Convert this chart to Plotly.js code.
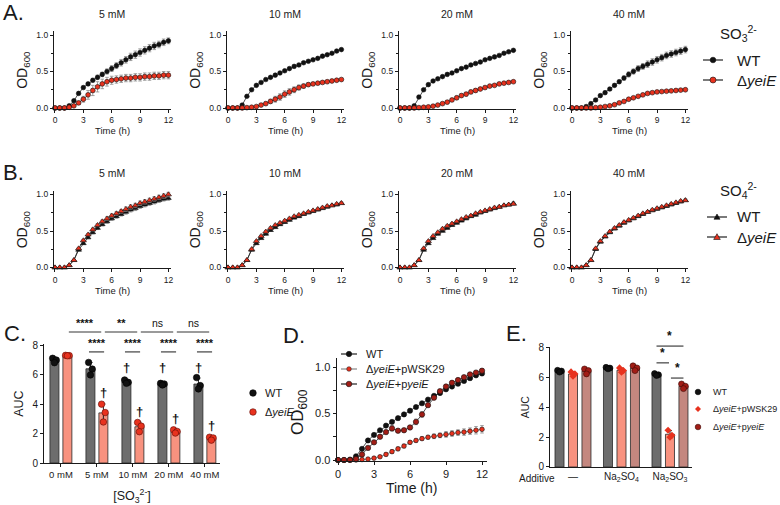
<!DOCTYPE html>
<html>
<head>
<meta charset="utf-8">
<script src="https://cdn.plot.ly/plotly-3.0.1.min.js"></script>
<style>
  html, body { margin: 0; padding: 0; background: #fff; }
  #chart { width: 780px; height: 505px; }
</style>
</head>
<body>
<div id="chart"></div>
<script>
// ---------- growth curves: sampling times (h) ----------
const hours = [0,0.5,1,1.5,2,2.5,3,3.5,4,4.5,5,5.5,6,6.5,7,7.5,8,8.5,9,9.5,10,10.5,11,11.5,12];

// ---------- A: sulfite (SO3 2-), OD600 mean and SD ----------
const a5Wt    = [0,0,0,0.03,0.10,0.20,0.28,0.33,0.38,0.42,0.46,0.50,0.54,0.58,0.62,0.66,0.70,0.73,0.76,0.79,0.82,0.85,0.87,0.90,0.92];
const a5WtSd  = [0,0,0,0.005,0.01,0.015,0.02,0.02,0.025,0.03,0.03,0.035,0.04,0.04,0.045,0.045,0.05,0.05,0.05,0.05,0.05,0.05,0.045,0.045,0.04];
const a5Ko    = [0,0,0,0.01,0.03,0.07,0.12,0.18,0.24,0.29,0.33,0.36,0.38,0.39,0.40,0.41,0.41,0.42,0.42,0.43,0.43,0.44,0.44,0.45,0.45];
const a5KoSd  = [0,0,0,0.005,0.01,0.02,0.04,0.06,0.07,0.07,0.065,0.06,0.055,0.05,0.05,0.05,0.05,0.05,0.05,0.05,0.05,0.05,0.05,0.05,0.05];

const a10Wt   = [0,0,0,0.04,0.16,0.25,0.31,0.35,0.39,0.42,0.45,0.48,0.51,0.54,0.57,0.59,0.62,0.64,0.66,0.68,0.71,0.73,0.75,0.78,0.80];
const a10WtSd = [0,0,0,0.005,0.01,0.01,0.01,0.01,0.01,0.01,0.01,0.01,0.01,0.01,0.01,0.01,0.01,0.01,0.01,0.01,0.01,0.01,0.01,0.01,0.01];
const a10Ko   = [0,0,0,0,0.005,0.01,0.02,0.04,0.06,0.09,0.12,0.15,0.19,0.22,0.25,0.28,0.30,0.32,0.33,0.34,0.35,0.36,0.37,0.38,0.39];
const a10KoSd = [0,0,0,0,0.003,0.005,0.01,0.015,0.02,0.03,0.04,0.045,0.045,0.045,0.04,0.035,0.03,0.025,0.02,0.02,0.015,0.015,0.015,0.015,0.015];

const a20Wt   = [0,0,0,0.03,0.15,0.25,0.32,0.37,0.40,0.43,0.46,0.48,0.51,0.54,0.56,0.59,0.61,0.63,0.66,0.68,0.70,0.72,0.75,0.77,0.79];
const a20WtSd = [0,0,0,0.005,0.01,0.01,0.01,0.01,0.01,0.01,0.01,0.01,0.01,0.01,0.01,0.01,0.01,0.01,0.01,0.01,0.01,0.01,0.01,0.01,0.01];
const a20Ko   = [0,0,0,0,0.005,0.01,0.015,0.025,0.04,0.06,0.08,0.11,0.14,0.17,0.19,0.22,0.24,0.26,0.28,0.30,0.31,0.33,0.34,0.35,0.36];
const a20KoSd = [0,0,0,0,0,0.003,0.005,0.008,0.01,0.015,0.02,0.02,0.025,0.025,0.025,0.025,0.025,0.02,0.02,0.015,0.015,0.01,0.01,0.01,0.01];

const a40Wt   = [0,0,0,0.02,0.06,0.11,0.17,0.21,0.26,0.31,0.36,0.41,0.46,0.50,0.54,0.57,0.60,0.63,0.66,0.69,0.72,0.74,0.76,0.78,0.80];
const a40WtSd = [0,0,0,0.005,0.01,0.01,0.015,0.015,0.02,0.02,0.025,0.03,0.035,0.035,0.04,0.04,0.045,0.045,0.045,0.045,0.045,0.045,0.045,0.045,0.045];
const a40Ko   = [0,0,0,0,0,0.005,0.01,0.02,0.03,0.045,0.07,0.09,0.12,0.14,0.16,0.18,0.20,0.21,0.22,0.225,0.23,0.235,0.24,0.245,0.25];
const a40KoSd = [0,0,0,0,0,0.003,0.005,0.005,0.008,0.008,0.01,0.01,0.01,0.01,0.01,0.01,0.01,0.01,0.01,0.01,0.01,0.01,0.01,0.01,0.01];

// ---------- B: sulfate (SO4 2-), OD600 mean and SD ----------
const b5Wt    = [0,0,0,0.03,0.10,0.24,0.33,0.41,0.48,0.54,0.59,0.63,0.67,0.70,0.73,0.76,0.79,0.81,0.84,0.86,0.88,0.90,0.92,0.94,0.95];
const b5Ko    = [0,0,0,0.03,0.10,0.26,0.37,0.45,0.52,0.58,0.63,0.67,0.71,0.74,0.77,0.80,0.83,0.85,0.88,0.90,0.92,0.94,0.96,0.98,1.00];
const b5Sd    = [0,0,0,0.005,0.01,0.01,0.015,0.015,0.02,0.02,0.02,0.025,0.025,0.025,0.025,0.03,0.03,0.03,0.03,0.03,0.03,0.03,0.03,0.03,0.03];
const b10Wt   = [0,0,0,0.03,0.10,0.24,0.33,0.40,0.46,0.51,0.55,0.59,0.62,0.65,0.68,0.70,0.73,0.75,0.77,0.79,0.81,0.83,0.85,0.86,0.88];
const b10Ko   = [0,0,0,0.03,0.10,0.25,0.36,0.43,0.49,0.54,0.58,0.61,0.64,0.67,0.70,0.72,0.74,0.76,0.78,0.80,0.82,0.84,0.85,0.87,0.88];
const b20Wt   = [0,0,0,0.03,0.10,0.24,0.33,0.40,0.46,0.50,0.54,0.58,0.61,0.64,0.67,0.70,0.72,0.75,0.77,0.79,0.81,0.83,0.85,0.86,0.88];
const b20Ko   = [0,0,0,0.03,0.10,0.26,0.36,0.43,0.48,0.53,0.57,0.60,0.63,0.66,0.69,0.71,0.74,0.76,0.78,0.80,0.82,0.83,0.85,0.86,0.87];
const b40Wt   = [0,0,0,0.03,0.10,0.25,0.35,0.42,0.48,0.53,0.57,0.61,0.64,0.67,0.70,0.73,0.76,0.78,0.80,0.82,0.84,0.86,0.88,0.90,0.92];
const b40Ko   = [0,0,0,0.03,0.10,0.26,0.36,0.43,0.49,0.54,0.58,0.62,0.65,0.68,0.71,0.74,0.76,0.79,0.81,0.83,0.85,0.87,0.89,0.91,0.92];
const bSd     = [0,0,0,0.005,0.01,0.01,0.01,0.01,0.015,0.015,0.015,0.015,0.015,0.015,0.015,0.015,0.015,0.015,0.015,0.015,0.015,0.015,0.015,0.015,0.015];

// ---------- C: area under curve vs sulfite concentration ----------
const cCats   = ['0 mM', '5 mM', '10 mM', '20 mM', '40 mM'];
const cWtReps = [[7.10, 6.98, 6.80], [6.82, 6.37, 5.97], [5.63, 5.47, 5.40], [5.40, 5.36, 5.29], [5.79, 5.25, 5.02]];
const cKoReps = [[7.30, 7.28, 7.27], [3.99, 3.42, 2.78], [2.75, 2.50, 2.12], [2.25, 2.14, 2.03], [1.75, 1.70, 1.55]];
const cAcross = ['****', '**', 'ns', 'ns'];             // ΔyeiE, consecutive concentrations
const cWithin = [null, '****', '****', '****', '****']; // WT vs ΔyeiE at each concentration
const cDagWt  = [false, false, true, true, true];
const cDagKo  = [false, true, true, true, true];

// ---------- D: complementation growth curves ----------
const dWt     = [0,0,0.005,0.04,0.12,0.21,0.27,0.32,0.37,0.41,0.45,0.49,0.53,0.57,0.61,0.65,0.69,0.72,0.76,0.79,0.82,0.85,0.88,0.91,0.93];
const dWtSd   = [0,0,0,0.005,0.01,0.01,0.01,0.01,0.01,0.01,0.01,0.01,0.01,0.01,0.01,0.01,0.01,0.01,0.01,0.01,0.01,0.01,0.015,0.015,0.015];
const dVec    = [0,0,0,0,0.005,0.01,0.02,0.035,0.06,0.09,0.12,0.15,0.19,0.21,0.23,0.245,0.255,0.265,0.275,0.285,0.295,0.30,0.31,0.32,0.33];
const dVecSd  = [0,0,0,0,0,0.005,0.005,0.01,0.015,0.02,0.02,0.02,0.02,0.02,0.02,0.02,0.025,0.025,0.03,0.03,0.03,0.035,0.035,0.04,0.04];
const dComp   = [0,0,0,0.01,0.06,0.13,0.19,0.25,0.30,0.34,0.315,0.32,0.35,0.41,0.49,0.59,0.67,0.74,0.79,0.83,0.86,0.89,0.92,0.94,0.96];
const dCompSd = [0,0,0,0.005,0.01,0.01,0.01,0.015,0.02,0.03,0.015,0.015,0.02,0.03,0.03,0.02,0.015,0.015,0.015,0.015,0.015,0.015,0.015,0.015,0.02];

// ---------- E: AUC with additives ----------
const eCats     = ['—', 'Na<sub>2</sub>SO<sub>4</sub>', 'Na<sub>2</sub>SO<sub>3</sub>'];
const eWtReps   = [[6.50, 6.45, 6.38], [6.70, 6.65, 6.60], [6.28, 6.20, 6.15]];
const eVecReps  = [[6.39, 6.26, 6.10], [6.66, 6.48, 6.37], [2.47, 2.13, 2.00]];
const eCompReps = [[6.59, 6.48, 6.26], [6.80, 6.66, 6.48], [5.58, 5.43, 5.27]];

// ---------- helpers ----------
const W = 780, H = 505;
const FONT = 'Liberation Sans, Arial, Helvetica, sans-serif';
const INK = '#1a1a1a';
const RED = '#e8321e', DARKRED = '#a11d16', GREY = '#6d6d6d', SALMON = '#f8927f', ROSE = '#c4877f';
const pxX = v => v / W;
const pxY = v => 1 - v / H;
const mean = a => a.reduce((s, v) => s + v, 0) / a.length;
const sd = a => { const m = mean(a); return Math.sqrt(a.reduce((s, v) => s + (v - m) * (v - m), 0) / (a.length - 1)); };

const baseAxis = {
  showline: true, linecolor: INK, linewidth: 1,
  ticks: 'outside', ticklen: 3, tickwidth: 1, tickcolor: INK,
  showgrid: false, zeroline: false, fixedrange: true,
  tickfont: { family: FONT, size: 8.5, color: INK }
};

const layout = {
  width: W, height: H,
  margin: { l: 0, r: 0, t: 0, b: 0 },
  paper_bgcolor: '#ffffff', plot_bgcolor: 'rgba(0,0,0,0)',
  font: { family: FONT, color: INK },
  showlegend: false,
  annotations: [], shapes: []
};
const traces = [];

// growth-curve subplot: axis number n, pixel of t=0, pixel rows of OD 0 and 1
const XK = 9.45;
const X_RANGE = [-0.12, 12.3];
const Y_RANGE = [-0.012, 1.05];
function curveAxes(n, x0, zeroY, oneY, title, titleY) {
  const k = zeroY - oneY;
  const xs = n === 1 ? 'xaxis' : 'xaxis' + n;
  const ys = n === 1 ? 'yaxis' : 'yaxis' + n;
  layout[xs] = Object.assign({}, baseAxis, {
    domain: [pxX(x0 + X_RANGE[0] * XK), pxX(x0 + X_RANGE[1] * XK)],
    range: X_RANGE, tickvals: [0, 3, 6, 9, 12],
    anchor: 'y' + n,
    title: { text: 'Time (h)', font: { size: 9.5, color: INK }, standoff: 3 }
  });
  layout[ys] = Object.assign({}, baseAxis, {
    domain: [pxY(zeroY - Y_RANGE[0] * k), pxY(zeroY - Y_RANGE[1] * k)],
    range: Y_RANGE, tickvals: [0, 0.5, 1], tickformat: '.1f',
    minor: { ticks: 'outside', ticklen: 2, tickcolor: INK, tickvals: [0.25, 0.75] },
    anchor: 'x' + n,
    title: { text: 'OD<sub>600</sub>', font: { size: 14, color: INK }, standoff: 5 }
  });
  layout.annotations.push({
    xref: 'paper', yref: 'paper', x: pxX(x0 + 6 * XK), y: pxY(titleY),
    text: title, showarrow: false, xanchor: 'center', yanchor: 'middle',
    font: { size: 10.5, color: '#222' }
  });
}

function curve(n, y, err, fill, symbol, size, name, lineColor) {
  return {
    type: 'scatter', mode: 'lines+markers', x: hours, y: y,
    xaxis: 'x' + (n === 1 ? '' : n), yaxis: 'y' + (n === 1 ? '' : n),
    name: name, cliponaxis: false,
    line: { color: lineColor || '#222', width: 0.8 },
    marker: { color: fill, symbol: symbol, size: size, line: { color: '#111', width: 0.6 } },
    error_y: { type: 'data', array: err, visible: true, color: '#8c8c8c', thickness: 0.8, width: 1.8 }
  };
}

// ---------- rows A and B ----------
const colX0 = [55, 228, 400, 572];
const concs = ['5 mM', '10 mM', '20 mM', '40 mM'];
const aSeries = [[a5Wt, a5WtSd, a5Ko, a5KoSd], [a10Wt, a10WtSd, a10Ko, a10KoSd],
                 [a20Wt, a20WtSd, a20Ko, a20KoSd], [a40Wt, a40WtSd, a40Ko, a40KoSd]];
const bSeries = [[b5Wt, b5Sd, b5Ko, b5Sd], [b10Wt, bSd, b10Ko, bSd],
                 [b20Wt, bSd, b20Ko, bSd], [b40Wt, bSd, b40Ko, bSd]];
const WT_NAME = 'WT', KO_NAME = 'Δ<i>yeiE</i>';

concs.forEach((c, i) => {
  const nA = i + 1, nB = i + 5;
  curveAxes(nA, colX0[i], 108, 35, c, 14);
  curveAxes(nB, colX0[i], 267.5, 194.5, c, 173);
  const [aw, aws, ak, aks] = aSeries[i];
  traces.push(curve(nA, aw, aws, '#111', 'circle', 4.6, WT_NAME));
  traces.push(curve(nA, ak, aks, RED, 'circle', 4.8, KO_NAME));
  const [bw, bws, bk, bks] = bSeries[i];
  traces.push(curve(nB, bw, bws, '#111', 'triangle-up', 5, WT_NAME));
  traces.push(curve(nB, bk, bks, RED, 'triangle-up', 5.4, KO_NAME));
});

// ---------- C: AUC bars ----------
const C_YMAX = 8.05;
const cIdx = cCats.map((_, i) => i);
const C_OFF = 0.18, C_W = 0.25, C_JIT = [-0.05, 0.05, 0];
layout.xaxis9 = Object.assign({}, baseAxis, {
  domain: [pxX(44), pxX(220)], range: [-0.47, 4.42], anchor: 'y9',
  tickvals: cIdx, ticktext: cCats, tickfont: { family: FONT, size: 9.5, color: INK },
  title: { text: '[SO<sub>3</sub><sup>2-</sup>]', font: { size: 12.5, color: INK }, standoff: 17 }
});
layout.yaxis9 = Object.assign({}, baseAxis, {
  domain: [pxY(463), pxY(463 - C_YMAX * 14.75)], range: [0, C_YMAX], anchor: 'x9',
  tickvals: [0, 2, 4, 6, 8], tickfont: { family: FONT, size: 10, color: INK },
  title: { text: 'AUC', font: { size: 12.5, color: INK }, standoff: 6 }
});
[[cWtReps, -C_OFF, GREY, '#111', 'WT'], [cKoReps, C_OFF, SALMON, RED, KO_NAME]].forEach(([reps, off, barCol, dotCol, name]) => {
  traces.push({
    type: 'bar', x: cIdx, y: reps.map(mean), xaxis: 'x9', yaxis: 'y9',
    offset: off - C_W / 2, width: C_W, name: name,
    marker: { color: barCol, line: { color: '#2a2a2a', width: 0.8 } },
    error_y: { type: 'data', array: reps.map(sd), visible: true, color: '#222', thickness: 1, width: 2 }
  });
  const xs = [], ys = [];
  reps.forEach((r, i) => r.forEach((v, j) => { xs.push(i + off + C_JIT[j]); ys.push(v); }));
  traces.push({
    type: 'scatter', mode: 'markers', x: xs, y: ys, xaxis: 'x9', yaxis: 'y9',
    name: name, cliponaxis: false,
    marker: { color: dotCol, size: 6.5, line: { color: dotCol === RED ? '#5c0c06' : '#000', width: 0.6 } }
  });
});
// significance brackets for C
const cY = v => v / C_YMAX;
const sigFont = lab => ({ size: lab === 'ns' ? 10.5 : 11, color: '#111', weight: lab === 'ns' ? 'normal' : 'bold' });
cAcross.forEach((lab, i) => {
  const a = i + C_OFF + 0.04, b = i + 1 + C_OFF - 0.06;
  layout.shapes.push({ type: 'line', xref: 'x9', yref: 'y9 domain', x0: a, x1: b, y0: cY(8.88), y1: cY(8.88),
    line: { color: '#9a9a9a', width: 1.8 } });
  layout.annotations.push({ xref: 'x9', yref: 'y9 domain', x: (a + b) / 2, y: cY(8.92), text: lab,
    showarrow: false, yanchor: 'bottom', font: sigFont(lab) });
});
cWithin.forEach((lab, i) => {
  if (!lab) return;
  const a = i - C_OFF - 0.04, b = i + C_OFF + 0.02;
  layout.shapes.push({ type: 'line', xref: 'x9', yref: 'y9 domain', x0: a, x1: b, y0: cY(7.53), y1: cY(7.53),
    line: { color: INK, width: 1 } });
  layout.annotations.push({ xref: 'x9', yref: 'y9 domain', x: (a + b) / 2, y: cY(7.57), text: lab,
    showarrow: false, yanchor: 'bottom', font: sigFont(lab) });
});
cIdx.forEach(i => {
  if (cDagWt[i]) layout.annotations.push({ xref: 'x9', yref: 'y9 domain', x: i - C_OFF, y: cY(6.5), text: '†',
    showarrow: false, yanchor: 'middle', font: { size: 13, color: '#111', weight: 'bold' } });
  if (cDagKo[i]) layout.annotations.push({ xref: 'x9', yref: 'y9 domain', x: i + C_OFF,
    y: cY(Math.max(...cKoReps[i]) + 0.12), text: '†',
    showarrow: false, yanchor: 'bottom', font: { size: 13, color: '#111', weight: 'bold' } });
});

// ---------- D: complementation curves ----------
const DK = 12;
const D_X = [-0.12, 12.4], D_Y = [-0.01, 1.1];
layout.xaxis10 = Object.assign({}, baseAxis, {
  domain: [pxX(338 + D_X[0] * DK), pxX(338 + D_X[1] * DK)], range: D_X, anchor: 'y10',
  tickvals: [0, 3, 6, 9, 12], tickfont: { family: FONT, size: 11, color: INK },
  title: { text: 'Time (h)', font: { size: 14, color: INK }, standoff: 4 }
});
layout.yaxis10 = Object.assign({}, baseAxis, {
  domain: [pxY(460 - D_Y[0] * 93), pxY(460 - D_Y[1] * 93)], range: D_Y, anchor: 'x10',
  tickvals: [0, 0.5, 1], tickformat: '.1f', tickfont: { family: FONT, size: 11, color: INK },
  minor: { ticks: 'outside', ticklen: 2.5, tickcolor: INK, tickvals: [0.25, 0.75] }
});
// y label for D placed beside its tick labels
layout.annotations.push({ xref: 'paper', yref: 'paper', x: pxX(299), y: pxY(412), text: 'OD<sub>600</sub>',
  textangle: -90, showarrow: false, xanchor: 'center', yanchor: 'middle', font: { size: 17, color: INK } });
traces.push(curve(10, dWt, dWtSd, '#111', 'circle', 5.2, 'WT'));
traces.push(curve(10, dVec, dVecSd, RED, 'circle', 4.6, 'Δ<i>yeiE</i>+pWSK29', '#777'));
traces.push(curve(10, dComp, dCompSd, DARKRED, 'circle', 5.4, 'Δ<i>yeiE</i>+p<i>yeiE</i>'));

// ---------- E: additive AUC bars ----------
const E_YMAX = 8.05;
const eIdx = eCats.map((_, i) => i);
const E_OFF = 0.278, E_W = 0.186, E_JIT = [-0.04, 0.04, 0];
layout.xaxis11 = Object.assign({}, baseAxis, {
  domain: [pxX(550), pxX(692)], range: [-0.474, 2.454], anchor: 'y11',
  tickvals: eIdx, ticktext: eCats, ticks: '', tickfont: { family: FONT, size: 10, color: INK }
});
layout.yaxis11 = Object.assign({}, baseAxis, {
  domain: [pxY(467), pxY(467 - E_YMAX * 14.875)], range: [0, E_YMAX], anchor: 'x11',
  tickvals: [0, 2, 4, 6, 8], tickfont: { family: FONT, size: 10, color: INK },
  title: { text: 'AUC', font: { size: 10.5, color: INK }, standoff: 6 }
});
[[eWtReps, -E_OFF, GREY, '#111', 'circle', 'WT'],
 [eVecReps, 0, SALMON, RED, 'diamond', 'Δ<i>yeiE</i>+pWSK29'],
 [eCompReps, E_OFF, ROSE, DARKRED, 'circle', 'Δ<i>yeiE</i>+p<i>yeiE</i>']].forEach(([reps, off, barCol, dotCol, sym, name]) => {
  traces.push({
    type: 'bar', x: eIdx, y: reps.map(mean), xaxis: 'x11', yaxis: 'y11',
    offset: off - E_W / 2, width: E_W, name: name,
    marker: { color: barCol, line: { color: '#2a2a2a', width: 0.8 } },
    error_y: { type: 'data', array: reps.map(sd), visible: true, color: '#222', thickness: 1, width: 2 }
  });
  const xs = [], ys = [];
  reps.forEach((r, i) => r.forEach((v, j) => { xs.push(i + off + E_JIT[j]); ys.push(v); }));
  traces.push({
    type: 'scatter', mode: 'markers', x: xs, y: ys, xaxis: 'x11', yaxis: 'y11',
    name: name, cliponaxis: false,
    marker: { color: dotCol, symbol: sym, size: sym === 'diamond' ? 5.5 : 6,
      line: { color: dotCol === '#111' ? '#000' : '#3a0805', width: dotCol === RED ? 0 : 0.6 } }
  });
});
const eY = v => v / E_YMAX;
[[2 - E_OFF, 2 + E_OFF, 8.13], [2 - E_OFF, 2 - 0.02, 7.0], [2 + 0.02, 2 + E_OFF, 5.98]].forEach(([a, b, h]) => {
  layout.shapes.push({ type: 'line', xref: 'x11', yref: 'y11 domain', x0: a, x1: b, y0: eY(h), y1: eY(h),
    line: { color: INK, width: 1 } });
  layout.annotations.push({ xref: 'x11', yref: 'y11 domain', x: (a + b) / 2, y: eY(h + 0.05), text: '*',
    showarrow: false, yanchor: 'bottom', font: { size: 12, color: '#111', weight: 'bold' } });
});
layout.annotations.push({ xref: 'paper', yref: 'paper', x: pxX(537), y: pxY(478), text: 'Additive',
  showarrow: false, xanchor: 'center', yanchor: 'middle', font: { size: 10, color: INK } });

// ---------- panel letters ----------
[['A.', 1, 12], ['B.', 1, 172], ['C.', 2, 333], ['D.', 281, 335], ['E.', 504, 333]].forEach(([t, x, y]) => {
  layout.annotations.push({ xref: 'paper', yref: 'paper', x: pxX(x), y: pxY(y), text: t, showarrow: false,
    xanchor: 'left', yanchor: 'middle', font: { size: 22, color: INK } });
});

// ---------- legend keys (swatches drawn in pixel space) ----------
function keySymbol(cx, cy, sym, r, fill, stroke, sw) {
  const L = pxX(cx - r), R = pxX(cx + r), T = pxY(cy - r), B = pxY(cy + r);
  const base = { xref: 'paper', yref: 'paper', fillcolor: fill, layer: 'above',
    line: { color: stroke, width: sw } };
  if (sym === 'circle') return Object.assign(base, { type: 'circle', x0: L, x1: R, y0: B, y1: T });
  if (sym === 'triangle') return Object.assign(base, { type: 'path',
    path: `M ${L} ${pxY(cy + r * 0.75)} L ${R} ${pxY(cy + r * 0.75)} L ${pxX(cx)} ${T} Z` });
  return Object.assign(base, { type: 'path',
    path: `M ${pxX(cx)} ${T} L ${R} ${pxY(cy)} L ${pxX(cx)} ${B} L ${L} ${pxY(cy)} Z` });
}
function keyItem(spec) {
  const { cx, cy, half, lineColor, sym, r, fill, stroke, sw, text, tx, size } = spec;
  if (half) layout.shapes.push({ type: 'line', xref: 'paper', yref: 'paper', layer: 'above',
    x0: pxX(cx - half), x1: pxX(cx + half), y0: pxY(cy), y1: pxY(cy), line: { color: lineColor, width: 1.2 } });
  layout.shapes.push(keySymbol(cx, cy, sym, r, fill, stroke, sw));
  layout.annotations.push({ xref: 'paper', yref: 'paper', x: pxX(tx), y: pxY(cy), text: text, showarrow: false,
    xanchor: 'left', yanchor: 'middle', font: { size: size, color: INK } });
}
function keyTitle(text, x, y) {
  layout.annotations.push({ xref: 'paper', yref: 'paper', x: pxX(x), y: pxY(y), text: text, showarrow: false,
    xanchor: 'center', yanchor: 'middle', font: { size: 15, color: INK } });
}
// A
keyTitle('SO<sub>3</sub><sup>2-</sup>', 738, 33);
keyItem({ cx: 713, cy: 60, half: 10, lineColor: '#222', sym: 'circle', r: 2.8, fill: '#111', stroke: '#111', sw: 0.6, text: WT_NAME, tx: 735, size: 15 });
keyItem({ cx: 713, cy: 80, half: 10, lineColor: '#222', sym: 'circle', r: 3, fill: RED, stroke: '#111', sw: 0.6, text: KO_NAME, tx: 735, size: 15 });
// B
keyTitle('SO<sub>4</sub><sup>2-</sup>', 738, 190);
keyItem({ cx: 717, cy: 217, half: 10, lineColor: '#222', sym: 'triangle', r: 3, fill: '#111', stroke: '#111', sw: 0.6, text: WT_NAME, tx: 735, size: 15 });
keyItem({ cx: 717, cy: 237, half: 10, lineColor: '#222', sym: 'triangle', r: 3.3, fill: RED, stroke: '#111', sw: 0.6, text: KO_NAME, tx: 735, size: 15 });
// C
keyItem({ cx: 253, cy: 393, half: 0, sym: 'circle', r: 3.3, fill: '#111', stroke: '#000', sw: 0.6, text: 'WT', tx: 263, size: 11 });
keyItem({ cx: 253, cy: 412, half: 0, sym: 'circle', r: 3.3, fill: RED, stroke: '#5c0c06', sw: 0.6, text: KO_NAME, tx: 263, size: 11 });
// D
keyItem({ cx: 349, cy: 354, half: 8, lineColor: '#222', sym: 'circle', r: 2.7, fill: '#111', stroke: '#111', sw: 0.6, text: 'WT', tx: 364, size: 11 });
keyItem({ cx: 349, cy: 369, half: 8, lineColor: '#888', sym: 'circle', r: 2.3, fill: RED, stroke: '#111', sw: 0.5, text: 'Δ<i>yeiE</i>+pWSK29', tx: 364, size: 11 });
keyItem({ cx: 349, cy: 384, half: 8, lineColor: '#222', sym: 'circle', r: 2.8, fill: DARKRED, stroke: '#111', sw: 0.6, text: 'Δ<i>yeiE</i>+p<i>yeiE</i>', tx: 364, size: 11 });
// E
keyItem({ cx: 698, cy: 392, half: 0, sym: 'circle', r: 2.8, fill: '#111', stroke: '#000', sw: 0.6, text: 'WT', tx: 711, size: 9 });
keyItem({ cx: 698, cy: 409, half: 0, sym: 'diamond', r: 3, fill: RED, stroke: RED, sw: 0, text: 'Δ<i>yeiE</i>+pWSK29', tx: 711, size: 9 });
keyItem({ cx: 698, cy: 427, half: 0, sym: 'circle', r: 2.8, fill: DARKRED, stroke: '#3a0805', sw: 0.6, text: 'Δ<i>yeiE</i>+p<i>yeiE</i>', tx: 711, size: 9 });

Plotly.newPlot('chart', traces, layout, { displayModeBar: false, staticPlot: true });
</script>
</body>
</html>
